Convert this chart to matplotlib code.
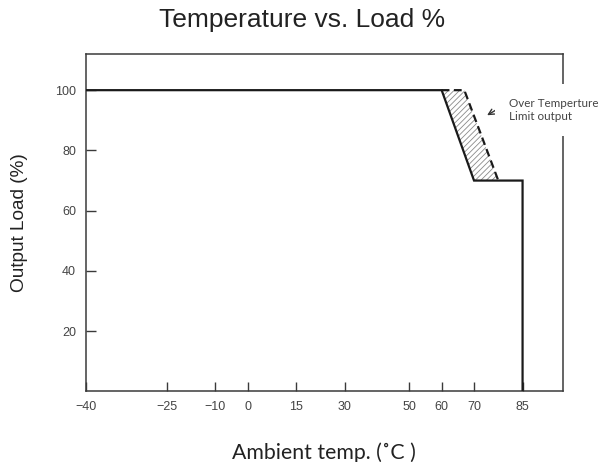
import numpy as np
import matplotlib
matplotlib.use("Agg")
import matplotlib.pyplot as plt

# ---- data ----
temps_main = [-40, 60, 70, 85, 85]
load_main = [100, 100, 70, 70, 0]
temps_otp = [60, 67, 77.5]
load_otp = [100, 100, 70]
hatch_temps = [60, 67, 77.5, 70]
hatch_load = [100, 100, 70, 70]
x_ticks = [-40, -25, -10, 0, 15, 30, 50, 60, 70, 85]
y_ticks = [20, 40, 60, 80, 100]

plt.rcParams['hatch.linewidth'] = 0.6

fig = plt.figure(figsize=(6.01, 4.62), dpi=100)
ax = fig.add_axes([0.1426, 0.1526, 0.7942, 0.7305])

# piecewise axis: the -40..-25 segment is stretched
src = [-40, -25, 100]
dst = [-50, -25, 100]
def fwd(t):
    return np.interp(t, src, dst)
def inv(p):
    return np.interp(p, dst, src)
ax.set_xscale('function', functions=(fwd, inv))
ax.set_xlim(-40, 97.5)
ax.set_ylim(0, 112)

ax.fill(hatch_temps, hatch_load, facecolor='white', edgecolor='#8a8a8a', lw=0,
        hatch='//////', zorder=1)
ax.plot(temps_main, load_main, color='#1a1a1a', lw=1.6, solid_joinstyle='miter', zorder=3)
ax.plot(temps_otp, load_otp, color='#1a1a1a', lw=1.6, ls=(0, (3.5, 2)), zorder=3)

for s in ax.spines.values():
    s.set_color('#3a3a3a')
    s.set_linewidth(1.1)

tick_font = ['Liberation Sans Narrow', 'Liberation Sans', 'DejaVu Sans']
ax.set_xticks(x_ticks)
ax.set_xticklabels([str(v).replace('-', '\u2212') for v in x_ticks], family=tick_font)
ax.set_yticks(y_ticks)
ax.set_yticklabels([str(v) for v in y_ticks], family=tick_font)
ax.tick_params(axis='x', direction='in', length=6.5, width=1.0, color='#3a3a3a',
               labelsize=9, labelcolor='#444444', pad=7)
ax.tick_params(axis='y', direction='in', length=7, width=1.0, color='#3a3a3a',
               labelsize=9, labelcolor='#444444', pad=7)
ax.xaxis.set_minor_locator(matplotlib.ticker.NullLocator())

ax.annotate('', xy=(73.3, 91.2), xytext=(78, 94.2),
            arrowprops=dict(arrowstyle='->', color='#333333', lw=1.0))
ax.text(80.8, 93.4, 'Over Temperture\nLimit output', fontsize=8.4, color='#444444',
        family=['Lato', 'DejaVu Sans'], ha='left', va='center', linespacing=1.3,
        bbox=dict(facecolor='white', edgecolor='none', pad=10), zorder=5, clip_on=False)

fig.text(0.502, 0.956, 'Temperature vs. Load %', ha='center', va='center',
         fontsize=19, color='#222222', family=['Liberation Sans', 'DejaVu Sans'])
fig.text(0.539, 0.02, 'Ambient temp. (\u02daC )', ha='center', va='center',
         fontsize=15.3, color='#222222', family=['Lato', 'DejaVu Sans'])
fig.text(0.033, 0.519, 'Output Load (%)', ha='center', va='center', rotation=90,
         fontsize=13.7, color='#222222', family=['Liberation Sans', 'DejaVu Sans'])

fig.savefig('out.png', dpi=100, facecolor='white')
